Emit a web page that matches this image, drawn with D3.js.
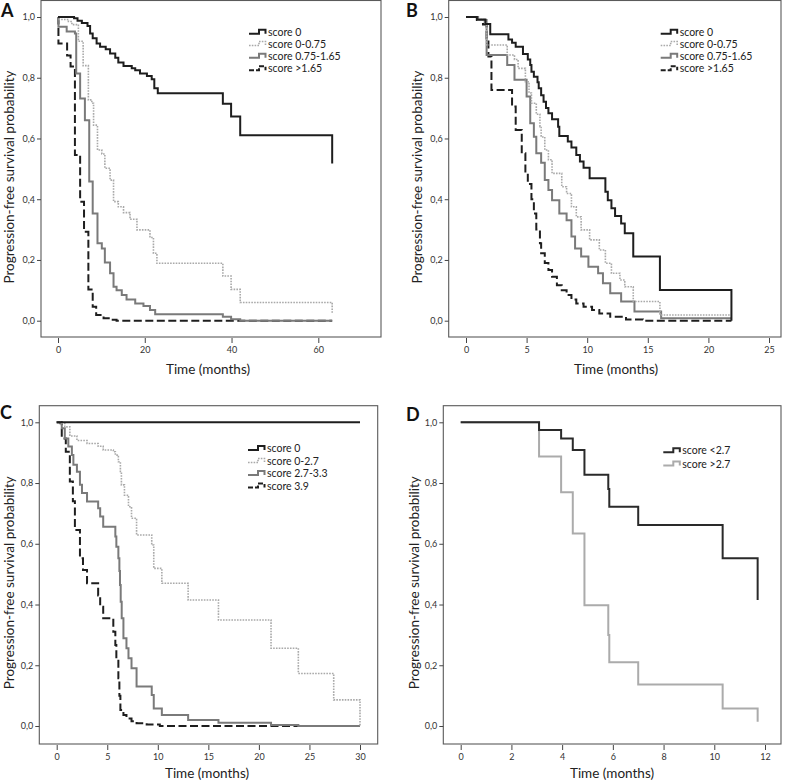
<!DOCTYPE html>
<html><head><meta charset="utf-8">
<script src="https://cdn.jsdelivr.net/npm/d3@7/dist/d3.min.js"></script>
<style>
body{margin:0;background:#fff}
svg{display:block}
text{font-family:Lato,"Open Sans",sans-serif}
</style>
</head><body>
<svg id="chart" width="787" height="780"></svg>
<script>
// ---------------- DATA ----------------
const yTicks = [0, 0.2, 0.4, 0.6, 0.8, 1.0];
const A_xTicks = [0, 20, 40, 60];
const B_xTicks = [0, 5, 10, 15, 20, 25];
const C_xTicks = [0, 5, 10, 15, 20, 25, 30];
const D_xTicks = [0, 2, 4, 6, 8, 10, 12];

const A_names = ["score 0", "score 0-0.75", "score 0.75-1.65", "score >1.65"];
const B_names = ["score 0", "score 0-0.75", "score 0.75-1.65", "score >1.65"];
const C_names = ["score 0", "score 0-2.7", "score 2.7-3.3", "score 3.9"];
const D_names = ["score <2.7", "score >2.7"];

// Panel A
const A_s0_t = [3.7,4.5,5.5,6.8,7.4,8.0,8.9,9.7,11.0,12.0,13.2,13.9,15.1,17.0,17.8,18.9,20.5,21.6,22.2,23.0,38.0,39.9,42.0,63.2];
const A_s0_p = [0.996,0.988,0.98,0.97,0.946,0.93,0.913,0.902,0.894,0.88,0.866,0.85,0.839,0.831,0.825,0.814,0.806,0.795,0.765,0.749,0.714,0.672,0.611,0.518];
const A_s1_t = [0.3,2.4,3.2,4.7,5.8,7.0,7.8,8.2,9.1,10.1,10.8,12.0,12.8,13.9,15.1,16.6,18.2,21.2,22.0,22.8,38.0,39.9,42.0,63.2];
const A_s1_p = [0.992,0.985,0.975,0.92,0.84,0.727,0.716,0.644,0.562,0.549,0.502,0.463,0.392,0.375,0.356,0.334,0.299,0.274,0.222,0.189,0.147,0.103,0.06,0.024];
const A_s2_t = [0.1,2.0,3.9,4.2,5.1,6.2,7.2,8.0,9.1,10.1,10.8,12.0,12.8,13.5,14.7,15.8,17.8,19.7,21.2,22.4,38.0,39.9,42.0,63.2];
const A_s2_p = [0.968,0.952,0.946,0.814,0.732,0.66,0.458,0.353,0.255,0.238,0.192,0.156,0.112,0.1,0.085,0.07,0.057,0.048,0.035,0.021,0.013,0.005,0.0,0.0];
const A_s3_t = [0.1,2.1,2.9,3.9,5.1,6.0,7.0,8.0,8.8,10.5,12.0,13.5,63.2];
const A_s3_p = [0.913,0.873,0.837,0.546,0.392,0.293,0.103,0.046,0.019,0.008,0.003,0,0];

// Panel B
const B_s0_t = [0.9,1.6,2.0,3.5,3.8,4.1,4.7,5.1,5.3,5.4,5.6,5.9,6.0,6.2,6.4,6.6,6.8,7.1,7.6,7.7,8.4,8.7,9.1,9.4,9.7,10.2,11.5,11.7,12.0,12.3,12.8,13.1,13.8,16.0,21.9];
const B_s0_p = [0.992,0.977,0.943,0.926,0.915,0.902,0.878,0.86,0.842,0.82,0.803,0.785,0.765,0.742,0.721,0.7,0.683,0.663,0.639,0.608,0.59,0.57,0.546,0.524,0.504,0.469,0.425,0.397,0.37,0.345,0.32,0.288,0.211,0.101,0];
const B_s1_t = [0.9,1.5,1.7,3.4,4.0,4.3,4.9,5.2,5.4,5.8,6.1,6.2,6.5,6.8,7.1,7.9,8.3,8.7,9.1,9.5,10.2,11.0,11.5,12.0,12.7,13.1,13.8,16.0,21.9];
const B_s1_p = [0.992,0.98,0.908,0.875,0.86,0.831,0.787,0.75,0.716,0.68,0.639,0.605,0.562,0.53,0.485,0.441,0.419,0.375,0.342,0.299,0.266,0.233,0.189,0.156,0.134,0.112,0.063,0.019,0.019];
const B_s2_t = [1.0,1.7,3.4,4.0,5.0,5.3,5.6,5.8,6.2,6.5,6.8,7.1,7.7,8.3,8.7,9.0,9.5,10.1,10.9,11.3,11.9,12.8,13.9,16.1,21.9];
const B_s2_p = [0.99,0.875,0.842,0.793,0.738,0.65,0.606,0.551,0.52,0.463,0.43,0.397,0.353,0.331,0.277,0.238,0.211,0.178,0.156,0.123,0.09,0.063,0.03,0.008,0.008];
const B_s3_t = [0.9,1.4,1.7,1.85,2.1,3.8,4.1,4.6,4.9,5.1,5.4,5.6,5.8,6.1,6.2,6.5,6.8,7.1,7.5,7.9,8.3,8.7,9.1,9.7,10.4,11.0,11.9,13.2,14.6,21.9];
const B_s3_p = [0.99,0.975,0.93,0.87,0.76,0.705,0.628,0.551,0.485,0.45,0.4,0.353,0.3,0.255,0.222,0.19,0.167,0.145,0.117,0.1,0.085,0.07,0.057,0.046,0.035,0.024,0.013,0.004,0,0];

// Panel C
const C_s0_t = [30.0];
const C_s0_p = [1.0];
const C_s1_t = [0.5,0.8,1.3,2.0,3.0,4.1,4.6,5.6,5.8,6.1,6.3,6.4,6.7,7.1,7.4,7.9,9.4,9.6,10.4,13.0,16.0,21.2,23.9,27.4,30.0];
const C_s1_p = [0.997,0.985,0.955,0.94,0.93,0.921,0.909,0.903,0.892,0.87,0.838,0.794,0.76,0.722,0.684,0.629,0.596,0.519,0.47,0.415,0.349,0.256,0.173,0.086,0];
const C_s2_t = [0.33,0.5,0.8,1.15,1.5,1.65,2.0,2.3,2.5,3.0,4.1,4.3,4.6,5.8,5.9,6.1,6.2,6.26,6.33,6.43,6.6,6.9,7.1,7.4,7.9,9.4,9.6,10.4,13.0,16.0,21.2,23.9,30.0];
const C_s2_p = [0.997,0.98,0.947,0.92,0.892,0.86,0.837,0.794,0.767,0.739,0.717,0.69,0.656,0.624,0.59,0.552,0.51,0.464,0.409,0.355,0.289,0.256,0.223,0.19,0.13,0.102,0.058,0.036,0.02,0.011,0.003,0,0];
const C_s3_t = [0.5,0.9,1.3,1.6,1.8,2.3,2.6,3.0,4.1,4.3,4.6,5.6,5.8,5.9,6.1,6.2,6.3,6.6,6.9,7.4,7.9,8.9,10.2,30.0];
const C_s3_p = [0.947,0.903,0.805,0.74,0.645,0.552,0.514,0.47,0.43,0.393,0.355,0.31,0.267,0.223,0.157,0.1,0.053,0.036,0.025,0.016,0.009,0.005,0,0];

// Panel D
const D_s0_t = [3.09,3.96,4.42,4.88,5.82,5.86,7.0,10.33,11.71];
const D_s0_p = [0.975,0.947,0.909,0.827,0.78,0.722,0.662,0.552,0.415];
const D_s1_t = [3.09,3.96,4.42,4.88,5.82,5.86,7.0,10.33,11.71];
const D_s1_p = [0.887,0.77,0.634,0.398,0.3,0.21,0.137,0.058,0.014];

// ---------------- STYLES ----------------
const stBlack  = {color:"#1e1e1e", width:2,   dash:null};
const stDotted = {color:"#a9a9a9", width:1.6, dash:"1.6,1.2"};
const stGray   = {color:"#7a7a7a", width:2,   dash:null};
const stDashed = {color:"#1e1e1e", width:2,   dash:"8,3.5"};
const stLightD = {color:"#ababab", width:2,   dash:null};
const stBlackD = {color:"#2a2a2a", width:2,   dash:null};

const panels = [
  {label:"A", lab:[1,17], frame:[41,0.5,381,337], xDom:[0,60], xR:[58,318.3], yR:[320.7,17],
   xTicks:A_xTicks, yTitle:[9,177], xTitle:[208,374], legend:[249,[32.3,44,56.3,68.8]],
   series:[[A_s0_t,A_s0_p,stBlack,A_names[0]],[A_s1_t,A_s1_p,stDotted,A_names[1]],[A_s2_t,A_s2_p,stGray,A_names[2]],[A_s3_t,A_s3_p,stDashed,A_names[3]]]},
  {label:"B", lab:[406,17], frame:[448.7,0.5,781,337], xDom:[0,25], xR:[466,769], yR:[320.7,17],
   xTicks:B_xTicks, yTitle:[417,177], xTitle:[616,374], legend:[660.7,[32.3,44,56.3,68.8]],
   series:[[B_s0_t,B_s0_p,stBlack,B_names[0]],[B_s1_t,B_s1_p,stDotted,B_names[1]],[B_s2_t,B_s2_p,stGray,B_names[2]],[B_s3_t,B_s3_p,stDashed,B_names[3]]]},
  {label:"C", lab:[0,419], frame:[39.3,405.7,377.7,744], xDom:[0,30], xR:[56.7,360], yR:[726,422.3],
   xTicks:C_xTicks, yTitle:[9,582.7], xTitle:[207,778], legend:[248,[448.5,461,473.5,486]],
   series:[[C_s0_t,C_s0_p,stBlack,C_names[0]],[C_s1_t,C_s1_p,stDotted,C_names[1]],[C_s2_t,C_s2_p,stGray,C_names[2]],[C_s3_t,C_s3_p,stDashed,C_names[3]]]},
  {label:"D", lab:[406,421], frame:[443.3,405.7,781,744], xDom:[0,12], xR:[460.7,765], yR:[726,422.3],
   xTicks:D_xTicks, yTitle:[414,582.7], xTitle:[612,778], legend:[663.3,[450.7,464]],
   series:[[D_s0_t,D_s0_p,stBlackD,D_names[0]],[D_s1_t,D_s1_p,stLightD,D_names[1]]]}
];

const loc = d3.formatLocale({decimal:",", thousands:".", grouping:[3], currency:["","€"]});
const yFmt = loc.format(".1f");

const svg = d3.select("#chart");

panels.forEach(P => {
  const g = svg.append("g");
  const [fx0, fy0, fx1, fy1] = P.frame;
  const x = d3.scaleLinear().domain(P.xDom).range(P.xR);
  const y = d3.scaleLinear().domain([0,1]).range(P.yR);

  // frame
  g.append("rect").attr("x",fx0).attr("y",fy0).attr("width",fx1-fx0).attr("height",fy1-fy0)
    .attr("fill","none").attr("stroke","#5a5a5a").attr("stroke-width",1.1);

  // y axis
  const ya = g.append("g").attr("transform",`translate(${fx0},0)`)
    .call(d3.axisLeft(y).tickValues(yTicks).tickFormat(yFmt).tickSize(4).tickPadding(2));
  ya.select(".domain").remove();
  ya.selectAll("line").attr("stroke","#444");
  ya.selectAll("text").attr("font-size",9).attr("fill","#333").attr("font-family","Lato, sans-serif");

  // x axis
  const xa = g.append("g").attr("transform",`translate(0,${fy1+1})`)
    .call(d3.axisBottom(x).tickValues(P.xTicks).tickFormat(d3.format("d")).tickSize(5).tickPadding(4));
  xa.select(".domain").remove();
  xa.selectAll("line").attr("stroke","#444");
  xa.selectAll("text").attr("font-size",9).attr("fill","#333").attr("font-family","Lato, sans-serif");

  // titles
  g.append("text").attr("x",P.xTitle[0]).attr("y",P.xTitle[1]).attr("text-anchor","middle")
    .attr("font-size",13.5).attr("fill","#222").text("Time (months)");
  g.append("text").attr("transform",`translate(${P.yTitle[0]+4.5},${P.yTitle[1]}) rotate(-90)`)
    .attr("text-anchor","middle").attr("font-size",13.5).attr("fill","#222")
    .text("Progression-free survival probability");

  // panel label
  g.append("text").attr("x",P.lab[0]).attr("y",P.lab[1]).attr("font-size",18).attr("font-weight","bold")
    .attr("font-family","'Liberation Sans', Arial, sans-serif").attr("fill","#111").text(P.label);

  // curves
  const line = d3.line().x(d=>x(d[0])).y(d=>y(d[1])).curve(d3.curveStepAfter);
  const cg = g.append("g");
  P.series.slice().reverse().forEach(s => {
    const [t, p, st] = s;
    const pts = [[0,1]].concat(t.map((ti,i)=>[ti,p[i]]));
    cg.append("path").datum(pts).attr("d",line).attr("fill","none")
      .attr("stroke",st.color).attr("stroke-width",st.width)
      .attr("stroke-dasharray",st.dash).attr("stroke-linejoin","miter");
  });

  // legend
  const [lx, rows] = P.legend;
  P.series.forEach((s,i) => {
    const st = s[2], ly = rows[i];
    g.append("path").attr("d",`M${lx},${ly+1.5}H${lx+10}V${ly-2.5}H${lx+16.5}V${ly+1.5}`)
      .attr("fill","none").attr("stroke",st.color).attr("stroke-width",st.width)
      .attr("stroke-dasharray", st.dash ? (st.dash==="8,3.5" ? "5,2" : st.dash) : null);
    g.append("text").attr("x",lx+19).attr("y",ly+3.5).attr("font-size",10.5).attr("fill","#222").text(s[3]);
  });
});
</script>
</body></html>
